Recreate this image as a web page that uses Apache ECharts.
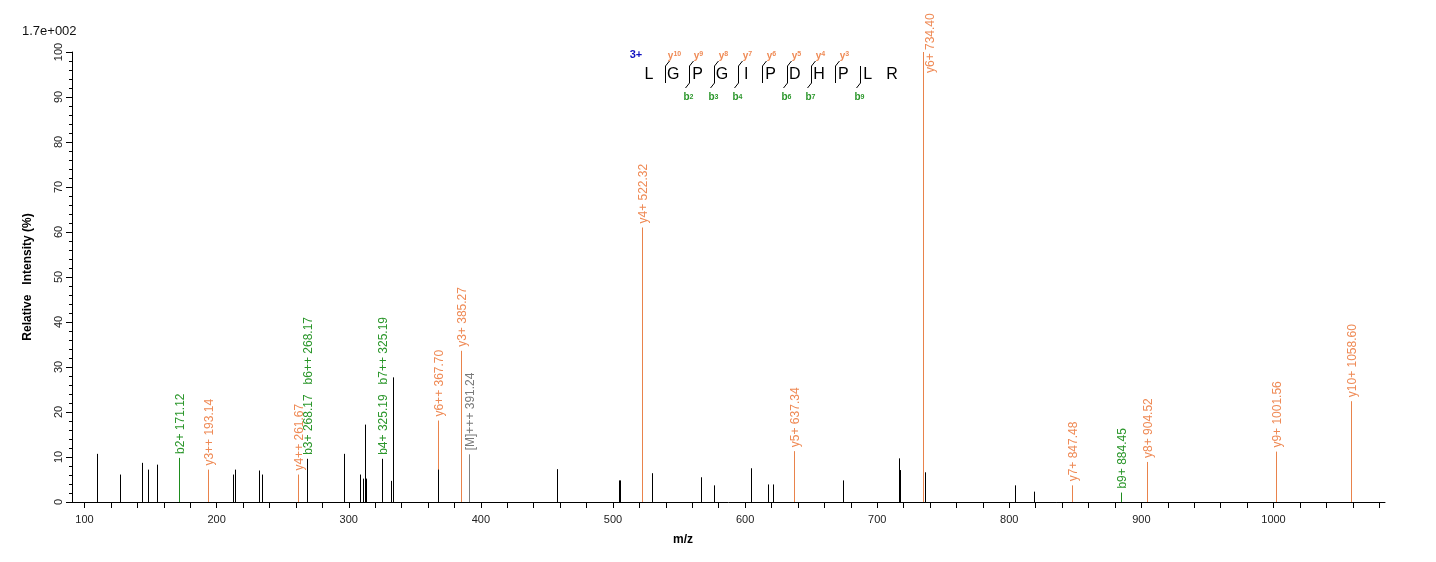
<!DOCTYPE html>
<html>
<head>
<meta charset="utf-8">
<script src="https://cdn.jsdelivr.net/npm/echarts@6/dist/echarts.min.js"></script>
<style>
html,body{margin:0;padding:0;background:#fff;}
#chart{width:1436px;height:562px;}
</style>
</head>
<body>
<div id="chart"></div>
<script>
// ---------- data ----------
const peakMz = [109.8,126.5,143.4,148.4,154.5,171.12,193.14,212.0,214.2,232.4,234.7,261.67,268.17,296.7,308.8,310.6,312.6,313.4,325.19,332.3,333.8,367.70,367.9,385.27,391.24,457.7,504.4,505.0,522.32,529.6,566.8,576.7,604.8,617.0,621.0,637.34,673.9,716.5,717.2,734.40,736.2,804.5,818.9,847.48,884.45,904.52,1001.56,1058.60];
const peakIntensity = [10.7,6.1,8.7,7.2,8.3,9.8,7.2,6.1,7.2,7.0,6.1,6.1,9.6,10.7,6.1,5.2,17.2,5.2,9.6,4.7,27.7,18.1,7.2,33.6,10.6,7.3,4.8,4.8,61.0,6.4,5.5,3.7,7.5,3.9,3.9,11.3,4.8,9.7,7.1,100,6.6,3.7,2.3,3.7,2.1,8.9,11.2,22.4];
const peakIon = ['','','','','','b','y','','','','','y','','','','','','','','','','y','','y','M','','','','y','','','','','','','y','','','','y','','','','y','b','y','y','y'];
const annotationMz = [171.12,193.14,261.67,268.17,268.17,325.19,325.19,367.70,385.27,391.24,522.32,637.34,734.40,847.48,884.45,904.52,1001.56,1058.60];
const annotationText = ['b2+ 171.12','y3++ 193.14','y4++ 261.67','b3+ 268.17','b6++ 268.17','b4+ 325.19','b7++ 325.19','y6++ 367.70','y3+ 385.27','[M]+++ 391.24','y4+ 522.32','y5+ 637.34','y6+ 734.40','y7+ 847.48','b9+ 884.45','y8+ 904.52','y9+ 1001.56','y10+ 1058.60'];
const xTickLabels = [100,200,300,400,500,600,700,800,900,1000];
const xMinorTicks = [100,120,140,160,180,200,220,240,260,280,300,320,340,360,380,400,420,440,460,480,500,520,540,560,580,600,620,640,660,680,700,720,740,760,780,800,820,840,860,880,900,920,940,960,980,1000,1020,1040,1060,1080];
const yTickLabels = [0,10,20,30,40,50,60,70,80,90,100];
const sequence = ['L','G','P','G','I','P','D','H','P','L','R'];
const yIonCleavage = [1,2,3,4,5,6,7,8];     // cleavage after residue i
const bIonCleavage = [2,3,4,6,7,9];
const precursorCharge = '3+';
const scaleText = '1.7e+002';

// ---------- styling ----------
const FONT = '"Liberation Sans", Arial, sans-serif';
const COL = {
  y: {line:'#E9834B', text:'#EF8A55'},
  b: {line:'#1E8C1E', text:'#2A962A'},
  M: {line:'#808080', text:'#7A7A7A'},
  '': {line:'#000000'}
};
function labelColor(t){
  if (t[0]==='b') return COL.b.text;
  if (t[0]==='y') return COL.y.text;
  return COL.M.text;
}
const measureCtx = document.createElement('canvas').getContext('2d');
measureCtx.font = '12px ' + FONT;
function textW(t){ return measureCtx.measureText(t).width; }

const peakLabels = peakMz.map(m => annotationText.filter((t,i)=>annotationMz[i]===m));

const chart = echarts.init(document.getElementById('chart'), null, {renderer:'canvas'});

// peptide annotation graphics (layout computed)
const seqGraphics = [];
const seqX0 = 649, seqStep = 24.3, seqY = 75;
sequence.forEach((aa,i)=>{
  seqGraphics.push({type:'text', x: seqX0 + i*seqStep, y: seqY,
    style:{text:aa, font:'16px ' + FONT, fill:'#000', align:'center', verticalAlign:'middle'}});
});
for (let c=1;c<sequence.length;c++){
  const hasY = yIonCleavage.includes(c), hasB = bIonCleavage.includes(c);
  if(!hasY && !hasB) continue;
  const mx = Math.round(seqX0 + (c-0.5)*seqStep + 4) + 0.5;
  seqGraphics.push({type:'line', shape:{x1:mx,y1:66,x2:mx,y2:83}, style:{stroke:'#000', lineWidth:1}});
  if (hasY){
    seqGraphics.push({type:'line', shape:{x1:mx,y1:66,x2:mx+4,y2:61}, style:{stroke:'#000', lineWidth:1}});
    seqGraphics.push({type:'text', x: mx+9, y: 56,
      style:{text:'{a|y}{n|' + (sequence.length - c) + '}', align:'center', verticalAlign:'middle',
        rich:{a:{font:'bold 10px ' + FONT, fill:COL.y.text}, n:{font:'bold 7px ' + FONT, fill:COL.y.text, verticalAlign:'top', padding:[0,0,3,0]}}}});
  }
  if (hasB){
    seqGraphics.push({type:'line', shape:{x1:mx,y1:83,x2:mx-4,y2:88}, style:{stroke:'#000', lineWidth:1}});
    seqGraphics.push({type:'text', x: mx-1, y: 97,
      style:{text:'{a|b}{n|' + c + '}', align:'center', verticalAlign:'middle',
        rich:{a:{font:'bold 10px ' + FONT, fill:COL.b.text}, n:{font:'bold 7px ' + FONT, fill:COL.b.text}}}});
  }
}
seqGraphics.push({type:'text', x:636, y:55, style:{text:precursorCharge, font:'bold 11px ' + FONT, fill:'#1010C0', align:'center', verticalAlign:'middle'}});
seqGraphics.push({type:'text', x:22, y:31, style:{text:scaleText, font:'13px ' + FONT, fill:'#111', align:'left', verticalAlign:'middle'}});
seqGraphics.push({type:'text', x:683, y:540, style:{text:'m/z', font:'bold 12px ' + FONT, fill:'#000', align:'center', verticalAlign:'middle'}});

chart.setOption({
  animation:false,
  backgroundColor:'#fff',
  grid:{left:72, right:51, top:52, bottom:60},
  xAxis:{
    type:'value', min:90.5, max:1084.4,
    axisLine:{lineStyle:{color:'#000', width:1}},
    axisTick:{show:true, length:6, inside:false, customValues:xMinorTicks, lineStyle:{color:'#000'}},
    axisLabel:{customValues:xTickLabels, color:'#222', fontSize:11, fontFamily:FONT, margin:12,
      formatter: v => String(v)},
    splitLine:{show:false}
  },
  yAxis:{
    type:'value', min:0, max:100, interval:10,
    name:'Relative   Intensity (%)', nameLocation:'middle', nameGap:38,
    nameTextStyle:{fontWeight:'bold', fontSize:12, fontFamily:FONT, color:'#000'},
    axisLine:{show:true, lineStyle:{color:'#000', width:1}},
    axisTick:{show:true, length:6, lineStyle:{color:'#000'}},
    minorTick:{show:true, splitNumber:5, length:3, lineStyle:{color:'#000'}},
    axisLabel:{rotate:90, color:'#222', fontSize:11, fontFamily:FONT, margin:8,
      formatter: v => yTickLabels.includes(v) ? String(v) : ''},
    splitLine:{show:false}
  },
  graphic: seqGraphics,
  series:[{
    type:'custom',
    clip:false,
    data: peakMz.map((m,i)=>[m, peakIntensity[i]]),
    renderItem:(params, api)=>{
      const i = params.dataIndex;
      const top = api.coord([api.value(0), api.value(1)]);
      const base = api.coord([api.value(0), 0]);
      const x = Math.round(top[0]) + 0.5;
      const kids = [{type:'line', shape:{x1:x, y1:base[1], x2:x, y2:top[1]},
        style:{stroke:COL[peakIon[i]].line, lineWidth:1}}];
      let cur = top[1] - 4;
      const labs = peakLabels[i];
      labs.forEach(t=>{
        const w = textW(t);
        let lx = x + 1.5, ly = cur;
        if (cur - w < 18){ ly = top[1] + 21; lx = x + 7; }
        kids.push({type:'text', x:lx, y:ly, rotation:Math.PI/2,
          style:{text:t, font:'12px ' + FONT, fill:labelColor(t), align:'left', verticalAlign:'middle'}});
        cur = ly - w - 10;
      });
      return {type:'group', children:kids};
    }
  }]
});
</script>
</body>
</html>
